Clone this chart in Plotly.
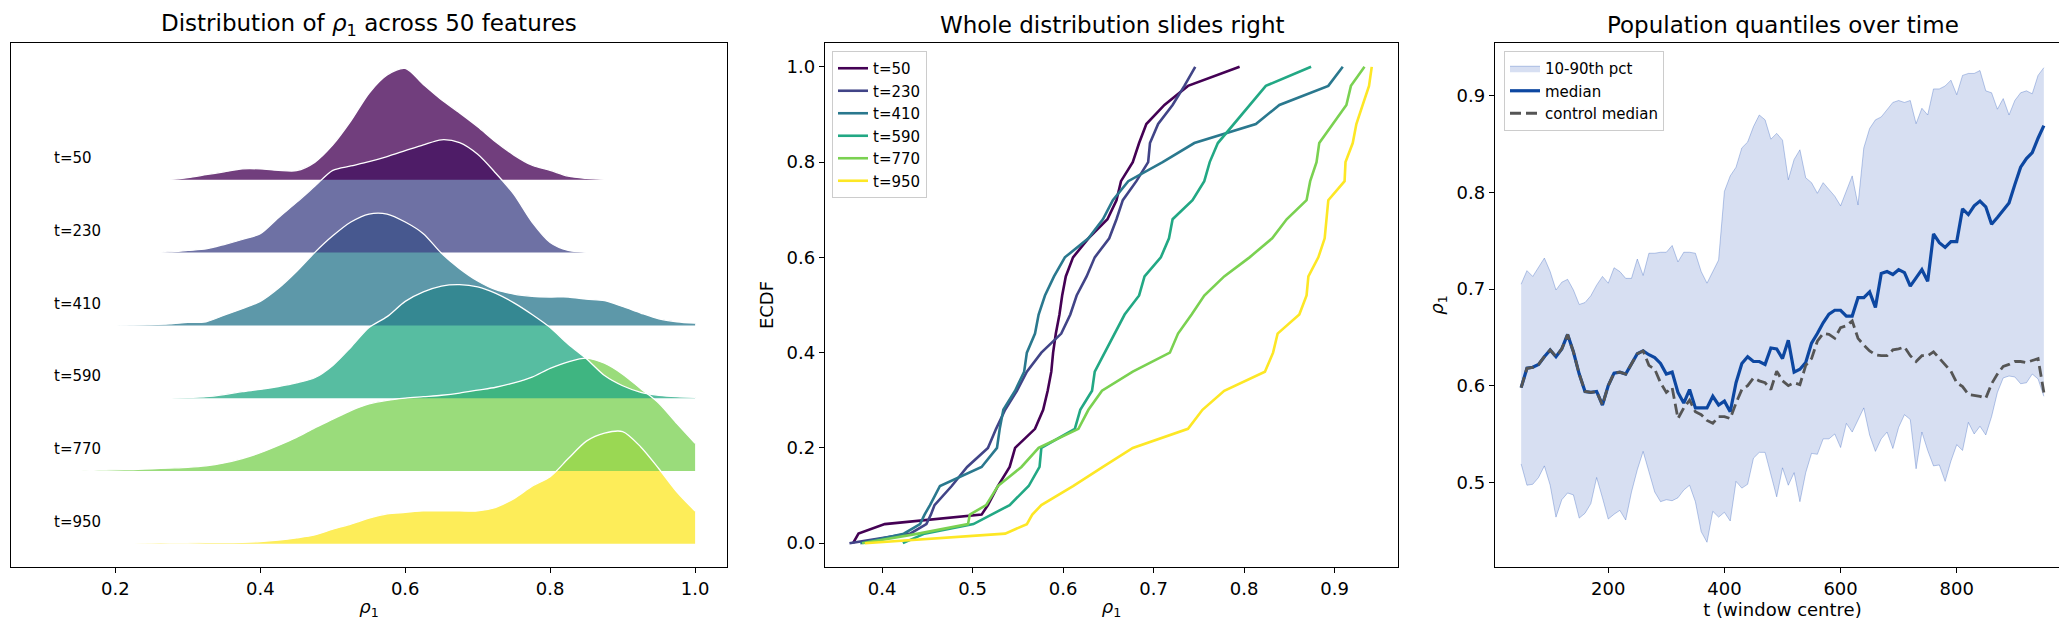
import plotly.graph_objects as go

# ---- panel 1: ridgeline densities (height in "ridge units") ----
GRID = [0.100, 0.125, 0.150, 0.175, 0.200, 0.225, 0.250, 0.275, 0.300, 0.325,
        0.350, 0.375, 0.400, 0.425, 0.450, 0.475, 0.500, 0.525, 0.550, 0.575,
        0.600, 0.625, 0.650, 0.675, 0.700, 0.725, 0.750, 0.775, 0.800, 0.825,
        0.850, 0.875, 0.900, 0.925, 0.950, 0.975, 1.000]

DENS_50 = [0, 0, 0, 0, 0, 0, 0, 0.005, 0.03, 0.07,
           0.11, 0.15, 0.15, 0.13, 0.125, 0.24, 0.48, 0.81, 1.19, 1.44,
           1.53, 1.31, 1.10, 0.92, 0.73, 0.52, 0.34, 0.20, 0.13, 0.05,
           0.02, 0.005, 0, 0, 0, 0, 0]
DENS_230 = [0, 0, 0, 0, 0, 0, 0, 0.01, 0.03, 0.05,
            0.11, 0.18, 0.26, 0.48, 0.69, 0.91, 1.13, 1.19, 1.25, 1.32,
            1.40, 1.48, 1.55, 1.51, 1.35, 1.09, 0.80, 0.42, 0.14, 0.03,
            0.005, 0, 0, 0, 0, 0, 0]
DENS_410 = [0, 0, 0, 0, 0, 0.005, 0.01, 0.02, 0.04, 0.05,
            0.14, 0.23, 0.33, 0.51, 0.74, 1.00, 1.23, 1.42, 1.53, 1.53,
            1.42, 1.26, 0.99, 0.78, 0.61, 0.49, 0.43, 0.40, 0.39, 0.39,
            0.36, 0.34, 0.26, 0.17, 0.09, 0.05, 0.03]
DENS_590 = [0, 0, 0, 0, 0, 0, 0, 0, 0.01, 0.02,
            0.05, 0.09, 0.12, 0.16, 0.21, 0.28, 0.45, 0.70, 0.97, 1.12,
            1.33, 1.46, 1.54, 1.56, 1.53, 1.44, 1.31, 1.15, 0.97, 0.74,
            0.54, 0.31, 0.17, 0.08, 0.04, 0.02, 0.01]
DENS_770 = [0, 0, 0, 0.01, 0.015, 0.02, 0.03, 0.04, 0.05, 0.07,
            0.11, 0.17, 0.25, 0.35, 0.46, 0.59, 0.71, 0.83, 0.92, 0.97,
            1.00, 1.02, 1.04, 1.07, 1.11, 1.15, 1.21, 1.29, 1.41, 1.50,
            1.55, 1.48, 1.33, 1.13, 0.93, 0.65, 0.38]
DENS_950 = [0, 0, 0, 0, 0.005, 0.005, 0.01, 0.01, 0.01, 0.015,
            0.015, 0.02, 0.03, 0.05, 0.08, 0.12, 0.20, 0.27, 0.35, 0.41,
            0.43, 0.45, 0.45, 0.45, 0.45, 0.50, 0.62, 0.79, 0.92, 1.17,
            1.41, 1.52, 1.54, 1.33, 1.03, 0.71, 0.45]

LABELS = ["t=50", "t=230", "t=410", "t=590", "t=770", "t=950"]
COLORS = ["#440154", "#414487", "#2a788e", "#22a884", "#7ad151", "#fde725"]
DENSITIES = [DENS_50, DENS_230, DENS_410, DENS_590, DENS_770, DENS_950]

# ---- panel 2: ECDF, x read at each ECDF level ----
ECDF_LEVELS = [0.00, 0.02, 0.04, 0.06, 0.08, 0.12, 0.16, 0.20, 0.24, 0.28,
               0.32, 0.36, 0.40, 0.44, 0.48, 0.52, 0.56, 0.60, 0.64, 0.68,
               0.72, 0.76, 0.80, 0.84, 0.88, 0.92, 0.96, 1.00]
ECDF_50 = [0.368, 0.374, 0.403, 0.510, 0.517, 0.528, 0.541, 0.547, 0.569, 0.578,
           0.583, 0.587, 0.589, 0.592, 0.596, 0.599, 0.603, 0.611, 0.628, 0.649,
           0.659, 0.664, 0.677, 0.684, 0.692, 0.712, 0.738, 0.795]
ECDF_230 = [0.364, 0.431, 0.449, 0.454, 0.458, 0.477, 0.494, 0.517, 0.526, 0.536,
            0.549, 0.560, 0.576, 0.598, 0.608, 0.615, 0.626, 0.635, 0.651, 0.659,
            0.666, 0.681, 0.694, 0.696, 0.705, 0.721, 0.734, 0.746]
ECDF_410 = [0.376, 0.424, 0.442, 0.447, 0.453, 0.464, 0.510, 0.527, 0.530, 0.534,
            0.547, 0.557, 0.560, 0.569, 0.573, 0.580, 0.590, 0.602, 0.628, 0.644,
            0.655, 0.672, 0.710, 0.745, 0.813, 0.839, 0.893, 0.909]
ECDF_590 = [0.423, 0.447, 0.501, 0.521, 0.541, 0.562, 0.574, 0.576, 0.613, 0.619,
            0.632, 0.635, 0.646, 0.657, 0.668, 0.684, 0.690, 0.708, 0.717, 0.721,
            0.743, 0.756, 0.762, 0.771, 0.789, 0.806, 0.824, 0.874]
ECDF_770 = [0.378, 0.440, 0.495, 0.497, 0.515, 0.528, 0.554, 0.573, 0.617, 0.628,
            0.643, 0.677, 0.718, 0.727, 0.742, 0.756, 0.778, 0.806, 0.831, 0.847,
            0.869, 0.873, 0.880, 0.883, 0.898, 0.913, 0.918, 0.933]
ECDF_950 = [0.381, 0.536, 0.560, 0.566, 0.576, 0.611, 0.644, 0.677, 0.738, 0.754,
            0.778, 0.823, 0.832, 0.837, 0.861, 0.869, 0.871, 0.882, 0.889, 0.891,
            0.893, 0.911, 0.912, 0.920, 0.924, 0.931, 0.938, 0.941]
ECDFS = [ECDF_50, ECDF_230, ECDF_410, ECDF_590, ECDF_770, ECDF_950]

# ---- panel 3: quantiles over time ----
T = list(range(50, 951, 10))
MEDIAN = [0.598, 0.618, 0.619, 0.622, 0.630, 0.637, 0.630, 0.638, 0.653, 0.635,
          0.612, 0.594, 0.593, 0.594, 0.580, 0.600, 0.613, 0.614, 0.612, 0.623,
          0.633, 0.636, 0.632, 0.629, 0.623, 0.612, 0.614, 0.593, 0.582, 0.596,
          0.577, 0.577, 0.577, 0.589, 0.580, 0.584, 0.573, 0.603, 0.623, 0.630,
          0.625, 0.625, 0.622, 0.639, 0.638, 0.628, 0.647, 0.614, 0.617, 0.624,
          0.644, 0.654, 0.665, 0.674, 0.678, 0.678, 0.672, 0.672, 0.691, 0.691,
          0.697, 0.681, 0.716, 0.718, 0.715, 0.720, 0.717, 0.703, 0.711, 0.720,
          0.708, 0.757, 0.748, 0.743, 0.749, 0.749, 0.783, 0.777, 0.786, 0.791,
          0.785, 0.767, 0.774, 0.782, 0.789, 0.808, 0.826, 0.835, 0.841, 0.856,
          0.869]
CONTROL = [0.598, 0.618, 0.619, 0.622, 0.630, 0.637, 0.630, 0.638, 0.653, 0.635,
           0.612, 0.594, 0.593, 0.594, 0.580, 0.600, 0.613, 0.614, 0.612, 0.623,
           0.633, 0.636, 0.621, 0.617, 0.603, 0.593, 0.598, 0.566, 0.577, 0.585,
           0.573, 0.570, 0.564, 0.561, 0.568, 0.568, 0.566, 0.582, 0.596, 0.600,
           0.608, 0.605, 0.603, 0.596, 0.615, 0.605, 0.600, 0.603, 0.601, 0.621,
           0.628, 0.646, 0.654, 0.653, 0.649, 0.660, 0.662, 0.667, 0.649, 0.642,
           0.636, 0.632, 0.631, 0.631, 0.637, 0.638, 0.640, 0.631, 0.625, 0.631,
           0.631, 0.635, 0.628, 0.621, 0.615, 0.603, 0.599, 0.591, 0.590, 0.589,
           0.587, 0.602, 0.612, 0.620, 0.622, 0.625, 0.625, 0.624, 0.626, 0.628,
           0.593]
P90 = [0.705, 0.719, 0.713, 0.723, 0.732, 0.718, 0.699, 0.707, 0.710, 0.699,
       0.684, 0.686, 0.693, 0.704, 0.713, 0.706, 0.722, 0.718, 0.711, 0.711,
       0.731, 0.714, 0.737, 0.737, 0.738, 0.738, 0.745, 0.728, 0.738, 0.738,
       0.737, 0.718, 0.706, 0.718, 0.730, 0.801, 0.817, 0.826, 0.846, 0.852,
       0.868, 0.880, 0.875, 0.855, 0.861, 0.854, 0.813, 0.834, 0.844, 0.815,
       0.810, 0.799, 0.810, 0.803, 0.796, 0.786, 0.801, 0.817, 0.787, 0.846,
       0.866, 0.875, 0.878, 0.885, 0.893, 0.895, 0.893, 0.895, 0.871, 0.887,
       0.880, 0.907, 0.907, 0.910, 0.916, 0.901, 0.921, 0.923, 0.923, 0.926,
       0.905, 0.903, 0.886, 0.897, 0.880, 0.895, 0.903, 0.905, 0.902, 0.921,
       0.929]
P10 = [0.519, 0.497, 0.498, 0.505, 0.517, 0.497, 0.464, 0.482, 0.489, 0.487,
       0.463, 0.468, 0.478, 0.505, 0.484, 0.462, 0.467, 0.471, 0.461, 0.490,
       0.513, 0.532, 0.511, 0.490, 0.480, 0.482, 0.481, 0.484, 0.492, 0.497,
       0.480, 0.449, 0.438, 0.470, 0.464, 0.469, 0.460, 0.501, 0.494, 0.498,
       0.525, 0.531, 0.531, 0.509, 0.485, 0.515, 0.497, 0.510, 0.480, 0.510,
       0.530, 0.529, 0.545, 0.545, 0.550, 0.536, 0.561, 0.552, 0.565, 0.577,
       0.549, 0.532, 0.545, 0.552, 0.535, 0.557, 0.570, 0.565, 0.514, 0.552,
       0.533, 0.517, 0.518, 0.501, 0.522, 0.539, 0.533, 0.562, 0.550, 0.558,
       0.549, 0.568, 0.593, 0.608, 0.610, 0.609, 0.602, 0.603, 0.612, 0.607,
       0.589]

FONT = "DejaVu Sans"
RHO = "<i>ρ</i><sub>1</sub>"


def rgba(hex_color, a):
    h = hex_color.lstrip('#')
    r, g, b = int(h[0:2], 16), int(h[2:4], 16), int(h[4:6], 16)
    return f"rgba({r},{g},{b},{a})"


fig = go.Figure()

n = len(LABELS)
offsets = [n - 1 - i for i in range(n)]

# ridge fills: bottom ridge first so the upper ridges sit on top
for i in reversed(range(n)):
    fig.add_trace(go.Scatter(
        x=GRID, y=[offsets[i]] * len(GRID), mode='lines',
        line=dict(width=0, color=COLORS[i]), showlegend=False, hoverinfo='skip',
        xaxis='x', yaxis='y'))
    fig.add_trace(go.Scatter(
        x=GRID, y=[offsets[i] + d for d in DENSITIES[i]], mode='lines',
        line=dict(width=0, color=COLORS[i], shape='spline', smoothing=0.8),
        fill='tonexty', fillcolor=rgba(COLORS[i], 0.76),
        showlegend=False, hoverinfo='skip', xaxis='x', yaxis='y'))

# white outlines above every fill
for i in range(n):
    fig.add_trace(go.Scatter(
        x=GRID, y=[offsets[i] + d for d in DENSITIES[i]], mode='lines',
        line=dict(color='white', width=1.3, shape='spline', smoothing=0.8),
        showlegend=False, hoverinfo='skip', xaxis='x', yaxis='y'))
    fig.add_annotation(x=0.113, y=offsets[i] + 0.3, xref='x', yref='y',
                       text=LABELS[i], showarrow=False, xanchor='left',
                       yanchor='middle',
                       font=dict(family=FONT, size=15, color='black'))

# ECDF lines
for lab, col, xs in zip(LABELS, COLORS, ECDFS):
    fig.add_trace(go.Scatter(
        x=xs, y=ECDF_LEVELS, mode='lines', name=lab,
        line=dict(color=col, width=2.6),
        xaxis='x2', yaxis='y2', legend='legend'))

# quantile band and medians
fig.add_trace(go.Scatter(
    x=T, y=P10, mode='lines', line=dict(color='rgba(31,79,181,0.3)', width=1),
    showlegend=False, hoverinfo='skip', xaxis='x3', yaxis='y3'))
fig.add_trace(go.Scatter(
    x=T, y=P90, mode='lines', line=dict(color='rgba(31,79,181,0.3)', width=1),
    fill='tonexty', fillcolor='rgba(31,79,181,0.18)', name='10-90th pct',
    xaxis='x3', yaxis='y3', legend='legend2'))
fig.add_trace(go.Scatter(
    x=T, y=MEDIAN, mode='lines', name='median',
    line=dict(color='#0d47a1', width=3.2),
    xaxis='x3', yaxis='y3', legend='legend2'))
fig.add_trace(go.Scatter(
    x=T, y=CONTROL, mode='lines', name='control median',
    line=dict(color='#555555', width=2.8, dash='11px,5px'),
    xaxis='x3', yaxis='y3', legend='legend2'))

W, H = 2067, 620
ydom = [1 - 559 / H, 1 - 35 / H]
axis_style = dict(showline=True, linecolor='black', linewidth=1.4, mirror=True,
                  ticks='outside', ticklen=5, tickwidth=1.3, tickcolor='black',
                  showgrid=False, zeroline=False,
                  tickfont=dict(family=FONT, size=18, color='black'))
title_font = dict(family=FONT, size=18, color='black')
legend_style = dict(xanchor='left', yanchor='top', traceorder='normal',
                    bgcolor='rgba(255,255,255,0.8)', bordercolor='#cccccc',
                    borderwidth=1, font=dict(family=FONT, size=15, color='black'),
                    itemwidth=30)

fig.update_layout(
    width=W, height=H, autosize=False,
    margin=dict(l=0, r=0, t=0, b=0),
    paper_bgcolor='white', plot_bgcolor='white',
    font=dict(family=FONT, color='black'),
    xaxis=dict(domain=[3 / W, 719 / W], range=[0.056, 1.044],
               tickvals=[0.2, 0.4, 0.6, 0.8, 1.0], tickformat='.1f',
               title=dict(text=RHO, font=title_font, standoff=2),
               **axis_style),
    yaxis=dict(domain=ydom, range=[-0.32, 6.88], showticklabels=False,
               showline=True, linecolor='black', linewidth=1.4, mirror=True,
               ticks='', showgrid=False, zeroline=False),
    xaxis2=dict(domain=[817 / W, 1390 / W], range=[0.337, 0.970], anchor='y2',
                tickvals=[0.4, 0.5, 0.6, 0.7, 0.8, 0.9], tickformat='.1f',
                title=dict(text=RHO, font=title_font, standoff=2),
                **axis_style),
    yaxis2=dict(domain=ydom, range=[-0.05, 1.05], anchor='x2',
                tickvals=[0.0, 0.2, 0.4, 0.6, 0.8, 1.0], tickformat='.1f',
                title=dict(text='ECDF', font=title_font, standoff=8),
                **axis_style),
    xaxis3=dict(domain=[1487 / W, 2062 / W], range=[5, 995], anchor='y3',
                tickvals=[200, 400, 600, 800],
                title=dict(text='t (window centre)', font=title_font, standoff=2),
                **axis_style),
    yaxis3=dict(domain=ydom, range=[0.4124, 0.9545], anchor='x3',
                tickvals=[0.5, 0.6, 0.7, 0.8, 0.9], tickformat='.1f',
                title=dict(text=RHO, font=title_font, standoff=8),
                **axis_style),
    legend=dict(x=824 / W, y=1 - 43 / H, **legend_style),
    legend2=dict(x=1496 / W, y=1 - 43 / H, **legend_style),
)

# panel titles
titles = [("Distribution of " + RHO + " across 50 features", 3, 719),
          ("Whole distribution slides right", 817, 1390),
          ("Population quantiles over time", 1487, 2062)]
for text, x0, x1 in titles:
    fig.add_annotation(x=(x0 + x1) / 2 / W, y=1 - 17 / H, xref='paper', yref='paper',
                       text=text, showarrow=False, xanchor='center', yanchor='middle',
                       font=dict(family=FONT, size=23, color='black'))

fig.write_html("out.html")
